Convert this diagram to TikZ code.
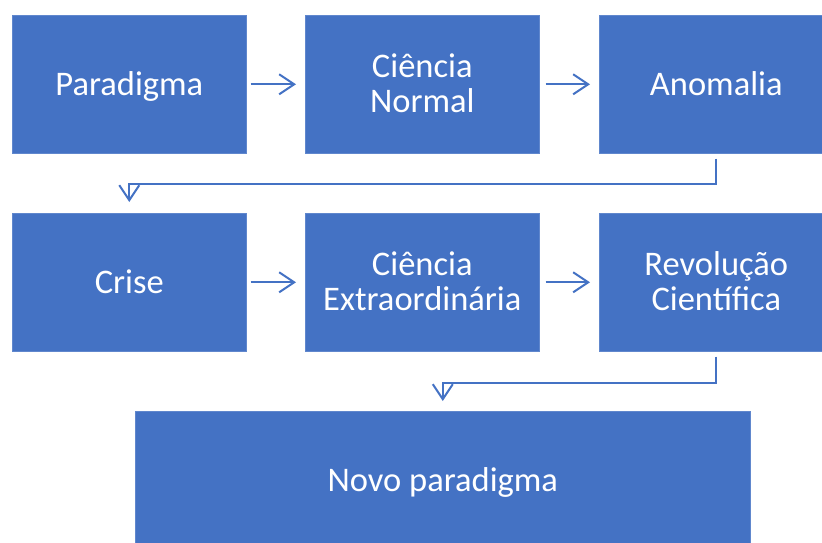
\documentclass[tikz,border=0pt]{standalone}
\usepackage{fontspec}
\setmainfont{Carlito}
\usetikzlibrary{arrows.meta}
\definecolor{boxblue}{HTML}{4472C4}
\begin{document}
\begin{tikzpicture}[x=1pt,y=-1pt,
  box/.style={fill=boxblue, draw=boxblue!85!white, line width=0.6pt, minimum width=234pt, minimum height=138pt, inner sep=0pt, text=white, font=\fontsize{34.5}{35}\selectfont, align=center, anchor=north west, text height=28pt, text depth=6pt},
  twoline/.style={text height=63pt},
  conn/.style={draw=boxblue, line width=2pt, -{Straight Barb[length=15pt, width=20pt]}}
]
\useasboundingbox (0,0) rectangle (822,542);
\node[box] (p) at (12,15) {Paradigma};
\node[box, twoline] (cn) at (305,15) {Ciência\\Normal};
\node[box] (an) at (599,15) {Anomalia};
\node[box] (cr) at (12,213) {Crise};
\node[box, twoline] (ce) at (305,213) {Ciência\\Extraordinária};
\node[box, twoline] (rc) at (599,213) {Revolução\\Científica};
\node[box, minimum width=615pt] (np) at (135,411) {Novo paradigma};
\draw[conn] ([xshift=4pt]p.east) -- ([xshift=-9pt]cn.west);
\draw[conn] ([xshift=6pt]cn.east) -- ([xshift=-9pt]an.west);
\draw[conn] ([xshift=4pt]cr.east) -- ([xshift=-9pt]ce.west);
\draw[conn] ([xshift=6pt]ce.east) -- ([xshift=-9pt]rc.west);
\draw[conn] ([yshift=-5pt]an.south) -- ++(0,25) -| ([yshift=11pt]cr.north);
\draw[conn] ([yshift=-5pt]rc.south) -- ++(0,26) -| ([yshift=10pt]np.north);
\end{tikzpicture}
\end{document}
